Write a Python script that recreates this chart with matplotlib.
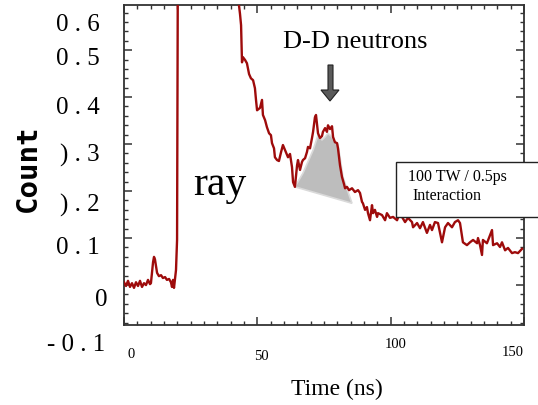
import matplotlib
matplotlib.use('Agg')
import matplotlib.pyplot as plt
from matplotlib.patches import Polygon, Rectangle
from matplotlib.ticker import MultipleLocator

# time (ns) and count
time_pre = [0, 0.75, 1.5, 2.25, 3.0, 3.75, 4.5, 5.25, 6.0, 6.75, 7.5, 8.25, 9.0, 9.75,
            10.1, 10.9, 11.25, 11.6, 12.4, 13.1, 13.9, 14.6, 15.4, 16.1, 16.9, 17.6,
            18.0, 18.4, 18.75, 19.5, 19.9, 20.25]
count_pre = [0.006, -0.002, 0.009, -0.004, 0.004, -0.006, 0.006, -0.002, 0.009, -0.004,
             0.004, 0.0, 0.011, 0.002, 0.004, 0.049, 0.060, 0.055, 0.026, 0.019, 0.021,
             0.015, 0.017, 0.011, 0.013, 0.006, -0.004, 0.011, -0.006, 0.032, 0.096, 0.8]

time_post = [42.6, 43.5, 43.9, 44.25, 44.6, 45.4, 46.1, 46.9, 47.6, 48.4, 49.1, 49.5, 49.9,
             51.0, 51.75, 52.1, 52.9, 53.6, 54.4, 55.1, 55.5, 56.25, 56.6, 57.4, 58.1,
             58.9, 59.6, 60.4, 61.1, 61.5, 62.25, 63.0, 63.4, 64.1, 64.9, 65.25, 66.0,
             66.75, 67.1, 67.9, 68.6, 69.0, 69.75, 70.5, 70.9, 71.6, 72.0, 72.75, 73.5,
             74.25, 74.6, 75.4, 76.1, 76.5, 77.25, 78.0, 78.4, 79.1, 79.9, 80.25, 81.0,
             81.75, 82.5, 82.9, 83.6, 84.4, 85.5, 86.6, 87.75, 88.5, 89.25, 89.6, 90.4,
             91.1, 91.5, 92.25, 93.0, 93.4, 94.1, 94.9, 95.25, 96.75, 97.9, 98.6, 99.75,
             100.9, 102.4, 103.5, 104.25, 105.4, 106.5, 108.0, 108.4, 109.9, 111.0,
             112.1, 113.6, 114.75, 115.5, 116.6, 117.75, 118.5, 119.25, 120.4, 121.5,
             123.0, 124.1, 125.25, 126.0, 127.1, 128.6, 129.75, 130.9, 132.4, 132.75,
             133.5, 134.25, 134.6, 136.1, 137.25, 138.0, 138.4, 139.9, 141.0, 141.75,
             142.9, 144.0, 145.5, 146.6, 147.75, 149.25]
count_post = [0.62, 0.577, 0.553, 0.474, 0.485, 0.479, 0.472, 0.449, 0.440, 0.436, 0.419,
              0.394, 0.372, 0.377, 0.394, 0.362, 0.351, 0.336, 0.323, 0.319, 0.302, 0.291,
              0.272, 0.266, 0.264, 0.283, 0.298, 0.287, 0.277, 0.272, 0.279, 0.251, 0.219,
              0.209, 0.255, 0.266, 0.245, 0.262, 0.266, 0.270, 0.283, 0.294, 0.291, 0.313,
              0.326, 0.357, 0.362, 0.323, 0.313, 0.317, 0.326, 0.334, 0.326, 0.340, 0.332,
              0.338, 0.315, 0.304, 0.302, 0.291, 0.255, 0.230, 0.215, 0.206, 0.209, 0.202,
              0.206, 0.198, 0.202, 0.196, 0.177, 0.174, 0.160, 0.166, 0.153, 0.138, 0.170,
              0.153, 0.160, 0.145, 0.153, 0.149, 0.138, 0.153, 0.143, 0.145, 0.138, 0.155,
              0.145, 0.134, 0.143, 0.134, 0.123, 0.132, 0.121, 0.134, 0.111, 0.128, 0.117,
              0.134, 0.132, 0.111, 0.091, 0.123, 0.132, 0.123, 0.134, 0.138, 0.132, 0.091,
              0.085, 0.091, 0.096, 0.089, 0.100, 0.085, 0.064, 0.096, 0.089, 0.106, 0.117,
              0.085, 0.089, 0.081, 0.091, 0.074, 0.079, 0.068, 0.070, 0.068, 0.077]

# D-D neutron bump (shaded)
bump_time = [64.1, 67.1, 70.9, 72.75, 74.25, 75.4, 76.5, 78.0, 79.1, 80.25, 81.0, 82.1, 85.5]
bump_count = [0.209, 0.238, 0.287, 0.319, 0.309, 0.315, 0.323, 0.315, 0.304, 0.298,
              0.272, 0.230, 0.174]

ytick_text = ['0 . 6', '0 . 5', '0 . 4', ') . 3', ') . 2', '0 . 1', '0', '- 0 . 1']
xtick_text = ['0', '50', '100', '150']

W, H = 538, 405
SERIF = 'Liberation Serif'
RED = '#9e0b0b'


def fx(x):
    return x / W


def fy(y):
    return 1 - y / H


fig = plt.figure(figsize=(W / 100, H / 100), dpi=100)
ax = fig.add_axes([fx(124), fy(325), (524 - 124) / W, (325 - 5) / H])

ax.fill(bump_time, bump_count, facecolor='#bdbdbd', edgecolor='#dadada',
        linewidth=1.2, zorder=2)
ax.plot(time_pre + time_post, count_pre + count_post, color=RED, linewidth=1.7, zorder=3)

ax.set_xlim(0, 150)
ax.set_ylim(-0.085, 0.596)
ax.xaxis.set_major_locator(MultipleLocator(50))
ax.xaxis.set_minor_locator(MultipleLocator(5))
ax.yaxis.set_major_locator(MultipleLocator(0.1))
ax.yaxis.set_minor_locator(MultipleLocator(0.02))
ax.tick_params(which='both', direction='in', top=True, right=True,
               labelleft=False, labelbottom=False, color='#333333')
ax.tick_params(which='major', length=6, width=1.1)
ax.tick_params(which='minor', length=3, width=1.0)
for s in ax.spines.values():
    s.set_color('#333333')
    s.set_linewidth(1.3)

# tick labels, placed where the original shows them
ylab_pos = [(100, 25), (100, 59), (100, 108), (100, 155), (100, 205), (100, 248),
            (108, 300), (105, 345)]
for txt, (x, y) in zip(ytick_text, ylab_pos):
    fig.text(fx(x), fy(y), txt, ha='right', va='center', fontsize=18, family=SERIF)

xlab_pos = [(131, 355), (261, 357), (396, 345), (513, 352)]
for txt, (x, y) in zip(xtick_text, xlab_pos):
    fig.text(fx(x), fy(y), txt, ha='center', va='center', fontsize=10.5, family=SERIF)

fig.text(fx(337), fy(389), 'Time (ns)', ha='center', va='center', fontsize=17, family=SERIF)
fig.text(fx(28), fy(168), 'Count', ha='center', va='center', rotation=90,
         fontsize=21, family='DejaVu Sans Mono', fontweight='bold')

fig.text(fx(355), fy(42), 'D-D neutrons', ha='center', va='center', fontsize=19, family=SERIF)
fig.text(fx(220), fy(185), 'ray', ha='center', va='center', fontsize=30, family=SERIF)

# down arrow
arrow = [(328, 65), (333, 65), (333, 90), (339, 90), (330, 101), (321, 90), (328, 90)]
fig.patches.append(Polygon([(fx(x), fy(y)) for x, y in arrow], closed=True,
                           transform=fig.transFigure, facecolor='#5a5a5a',
                           edgecolor='#222222', linewidth=0.8))

# annotation box, cut by the right edge
fig.patches.append(Rectangle((fx(396), fy(217)), fx(560) - fx(396), fy(162) - fy(217),
                             transform=fig.transFigure, facecolor='white',
                             edgecolor='#222222', linewidth=1.0, zorder=5))
fig.text(fx(408), fy(177), '100 TW / 0.5ps', ha='left', va='center', fontsize=11.5,
         family=SERIF, zorder=6)
fig.text(fx(412), fy(196), 'Interaction', ha='left', va='center', fontsize=11.5,
         family=SERIF, zorder=6)

fig.savefig('out.png', dpi=100)
